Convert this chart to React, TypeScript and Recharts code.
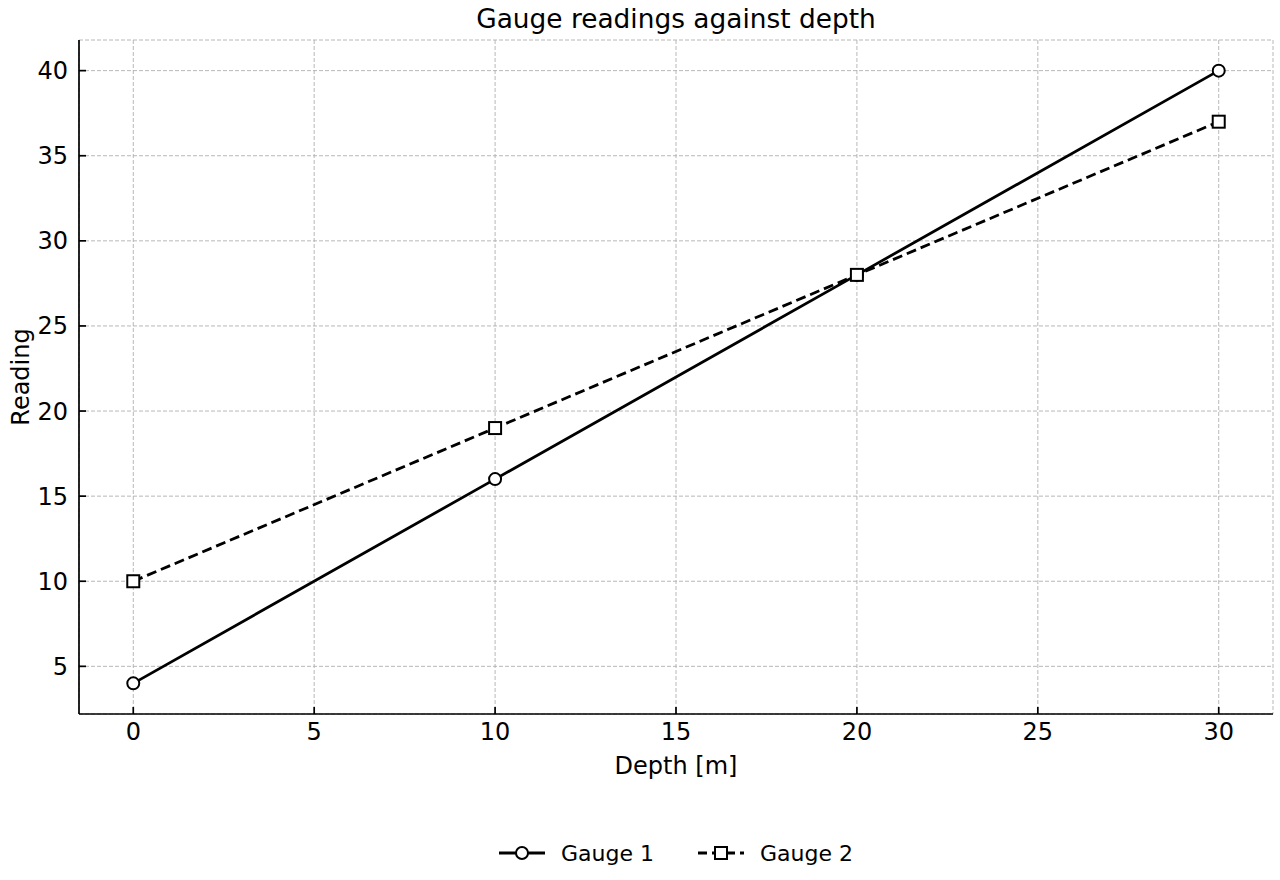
import { LineChart, Line, XAxis, YAxis, CartesianGrid, Legend } from "recharts";

const depths = [0, 10, 20, 30];
const gauge1 = [4, 16, 28, 40];
const gauge2 = [10, 19, 28, 37];
const xTicks = [0, 5, 10, 15, 20, 25, 30];
const yTicks = [5, 10, 15, 20, 25, 30, 35, 40];

const data = depths.map((d, i) => ({ depth: d, gauge1: gauge1[i], gauge2: gauge2[i] }));

const FONT = "'DejaVu Sans', sans-serif";

const CircleDot = (props: any) => {
  const { cx, cy } = props;
  if (cx == null || cy == null) return null;
  return <circle cx={cx} cy={cy} r={6} fill="#fff" stroke="#000" strokeWidth={2} />;
};

const SquareDot = (props: any) => {
  const { cx, cy } = props;
  if (cx == null || cy == null) return null;
  return <rect x={cx - 6} y={cy - 6} width={12} height={12} fill="#fff" stroke="#000" strokeWidth={2} />;
};

const legendItems = [
  { name: "Gauge 1", dash: undefined, marker: "circle" },
  { name: "Gauge 2", dash: "9 5", marker: "square" },
];

const renderLegend = () => (
  <div
    style={{
      display: "flex",
      justifyContent: "center",
      alignItems: "center",
      height: 30,
      fontFamily: FONT,
      fontSize: 22,
      color: "#000",
    }}
  >
    {legendItems.map((item, i) => (
      <div key={item.name} style={{ display: "flex", alignItems: "center", marginLeft: i === 0 ? 0 : 44 }}>
        <svg width={46} height={20}>
          <line x1={0} x2={46} y1={10} y2={10} stroke="#000" strokeWidth={2.8} strokeDasharray={item.dash} />
          {item.marker === "circle" ? (
            <circle cx={23} cy={10} r={6} fill="#fff" stroke="#000" strokeWidth={2} />
          ) : (
            <rect x={17} y={4} width={12} height={12} fill="#fff" stroke="#000" strokeWidth={2} />
          )}
        </svg>
        <span style={{ marginLeft: 16 }}>{item.name}</span>
      </div>
    ))}
  </div>
);

const XLabel = (props: any) => {
  const vb = props.viewBox;
  return (
    <text x={vb.x + vb.width / 2} y={vb.y + 60} textAnchor="middle" fontFamily={FONT} fontSize={24} fill="#000">
      Depth [m]
    </text>
  );
};

const YLabel = (props: any) => {
  const vb = props.viewBox;
  const x = vb.x + 29;
  const y = vb.y + vb.height / 2;
  return (
    <text x={x} y={y} transform={`rotate(-90, ${x}, ${y})`} textAnchor="middle" fontFamily={FONT} fontSize={24} fill="#000">
      Reading
    </text>
  );
};

export default function App() {
  const tickStyle = { fontFamily: FONT, fontSize: 24, fill: "#000" };
  return (
    <div style={{ position: "absolute", left: 0, top: 0, width: 1280, height: 880 }}>
      <LineChart width={1280} height={880} data={data} margin={{ top: 40, right: 7, bottom: 12, left: 0 }}>
        <text x={676} y={28} textAnchor="middle" fontFamily={FONT} fontSize={26.4} fill="#000">
          Gauge readings against depth
        </text>
        <CartesianGrid stroke="#b0b0b0" strokeDasharray="4 2" strokeWidth={0.9} />
        <XAxis
          type="number"
          dataKey="depth"
          domain={[-1.5, 31.5]}
          ticks={xTicks}
          height={124}
          tick={tickStyle}
          tickSize={-7}
          tickMargin={16}
          axisLine={{ stroke: "#000", strokeWidth: 1.7 }}
          tickLine={{ stroke: "#000", strokeWidth: 1.7 }}
          label={<XLabel />}
        />
        <YAxis
          type="number"
          domain={[2.2, 41.8]}
          ticks={yTicks}
          width={79}
          tick={tickStyle}
          tickSize={-7}
          tickMargin={18}
          axisLine={{ stroke: "#000", strokeWidth: 1.7 }}
          tickLine={{ stroke: "#000", strokeWidth: 1.7 }}
          label={<YLabel />}
        />
        <Legend
          verticalAlign="bottom"
          content={renderLegend}
          wrapperStyle={{ left: 79, width: 1194, bottom: 12 }}
        />
        <Line
          type="linear"
          dataKey="gauge1"
          name="Gauge 1"
          stroke="#000"
          strokeWidth={2.8}
          dot={<CircleDot />}
          activeDot={false}
          isAnimationActive={false}
        />
        <Line
          type="linear"
          dataKey="gauge2"
          name="Gauge 2"
          stroke="#000"
          strokeWidth={2.8}
          strokeDasharray="10 5"
          dot={<SquareDot />}
          activeDot={false}
          isAnimationActive={false}
        />
      </LineChart>
    </div>
  );
}
